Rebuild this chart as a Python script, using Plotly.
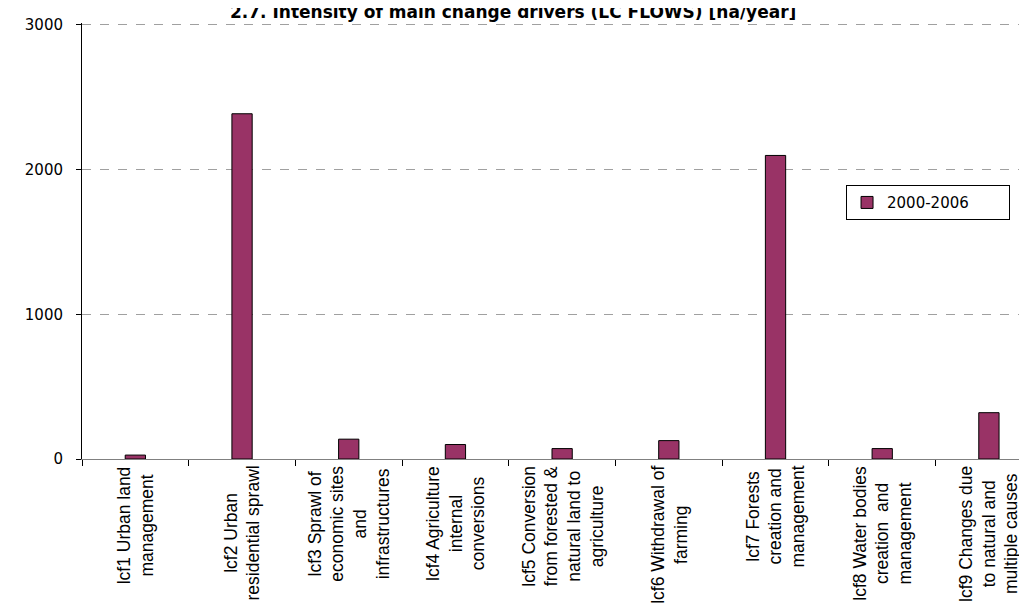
import plotly.graph_objects as go

# land cover flow categories and mean yearly intensity, 2000-2006
categories = [
    "lcf1 Urban land<br>management",
    "lcf2 Urban<br>residential sprawl",
    "lcf3 Sprawl of<br>economic sites<br>and<br>infrastructures",
    "lcf4 Agriculture<br>internal<br>conversions",
    "lcf5 Conversion<br>from forested &<br>natural land to<br>agriculture",
    "lcf6 Withdrawal of<br>farming",
    "lcf7 Forests<br>creation and<br>management",
    "lcf8 Water bodies<br>creation  and<br>management",
    "lcf9 Changes due<br>to natural and<br>multiple causes",
]
values_2000_2006 = [27, 2385, 137, 100, 72, 127, 2097, 72, 320]
series_name = "2000-2006"
y_ticks = [0, 1000, 2000, 3000]
chart_title = "2.7. Intensity of main change drivers (LC FLOWS) [ha/year]"

fig = go.Figure()
fig.add_trace(go.Bar(
    x=categories, y=values_2000_2006, name=series_name,
    marker=dict(color="#993366", line=dict(color="#000000", width=1)),
    width=0.19,
))

# category labels drawn as rotated, centred text blocks under the axis
for cat in categories:
    fig.add_annotation(
        x=cat, y=0, xref="x", yref="paper", yshift=-5,
        text=cat, textangle=-90, showarrow=False,
        xanchor="center", yanchor="top", align="center",
        font=dict(family="Liberation Sans, Arial", size=17.5, color="#000000"),
    )

# title sits partly outside the top of the picture, as in the original
fig.add_annotation(
    x=0.4566, y=1, xref="paper", yref="paper", yshift=11,
    text="<b>" + chart_title + "</b>", showarrow=False,
    xanchor="center", yanchor="middle",
    font=dict(family="DejaVu Sans", size=17, color="#000000"),
)

fig.update_layout(
    width=1027, height=612,
    margin=dict(l=74, r=8, t=13, b=161),
    paper_bgcolor="white", plot_bgcolor="white",
    showlegend=True,
    legend=dict(
        orientation="h",
        x=0.8085, y=0.628, xanchor="left", yanchor="top",
        bordercolor="#000000", borderwidth=1, bgcolor="white",
        font=dict(family="DejaVu Sans", size=15, color="#000000"),
        entrywidth=117, entrywidthmode="pixels",
    ),
)

fig.update_xaxes(
    type="category", range=[-0.5, 8.357],
    showticklabels=False, ticks="outside", tickson="boundaries",
    ticklen=6, tickcolor="#000000",
    showline=True, linecolor="#808080", linewidth=1,
    showgrid=False, zeroline=False,
)
# small headroom above 3000 so its dashed grid line is drawn
fig.update_yaxes(
    range=[0, 3012], tickvals=y_ticks,
    ticks="outside", ticklen=5, tickcolor="#000000",
    showline=True, linecolor="#000000", linewidth=1,
    showgrid=True, gridcolor="#a0a0a0", griddash="dash", gridwidth=1,
    zeroline=False, ticklabelstandoff=10,
    tickfont=dict(family="DejaVu Sans", size=15, color="#000000"),
)

fig.write_html("out.html")
